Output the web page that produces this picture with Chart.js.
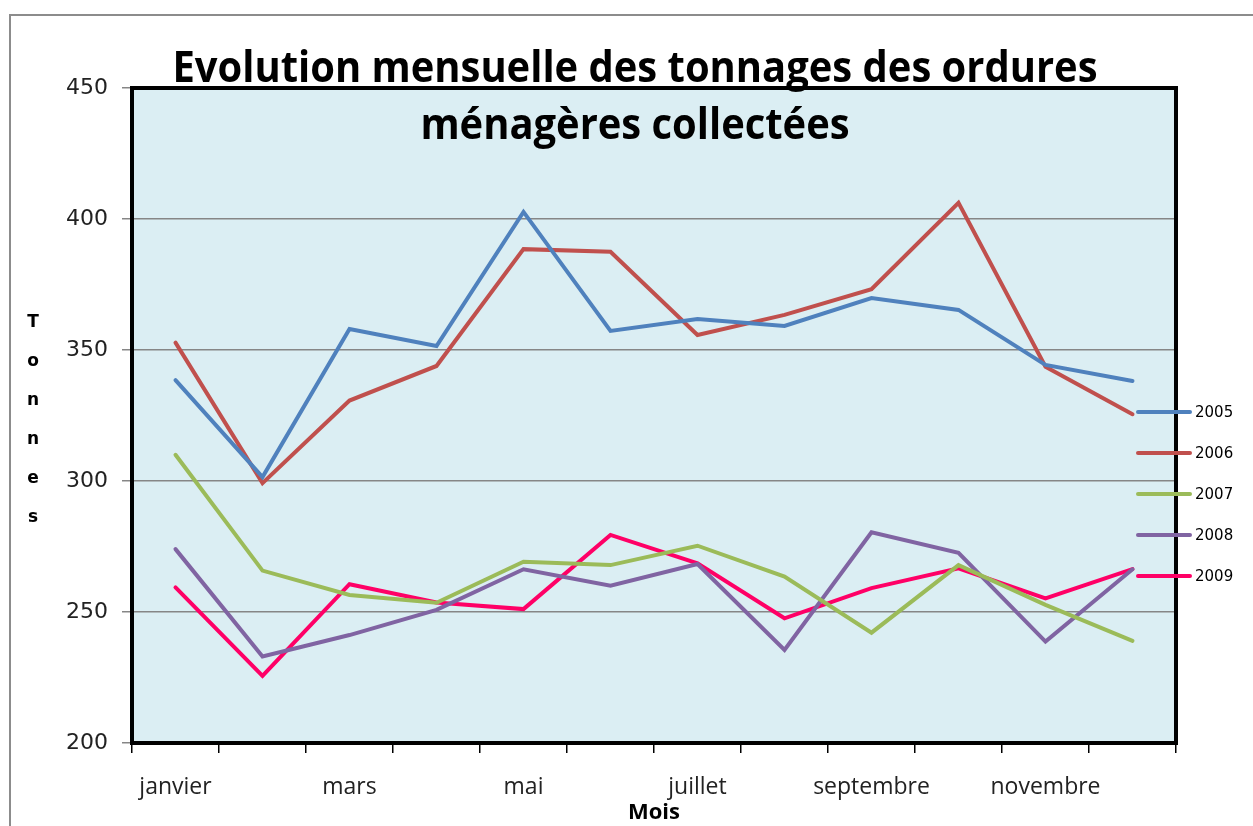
<!DOCTYPE html>
<html lang="fr">
<head>
  <meta charset="UTF-8" />
  <title>Evolution mensuelle des tonnages des ordures ménagères collectées</title>
  <script src="https://cdn.jsdelivr.net/npm/chart.js"></script>
  <style>
    html, body { margin: 0; padding: 0; background: #fff; }
    #wrap { width: 1253px; height: 826px; position: relative; }
  </style>
</head>
<body>
  <div id="wrap"><canvas id="chart"></canvas></div>

  <script>
    const months = ['janvier', 'février', 'mars', 'avril', 'mai', 'juin',
                    'juillet', 'août', 'septembre', 'octobre', 'novembre', 'décembre'];
    const years = ['2005', '2006', '2007', '2008', '2009'];
    const colors = ['#4F81BD', '#C0504D', '#9BBB59', '#8064A2', '#FF0066'];

    const t2005 = [338.5, 301.5, 358, 351.5, 402.7, 357.3, 361.8, 359.2, 369.8, 365.3, 344.3, 338.2];
    const t2006 = [352.8, 299.2, 330.7, 343.9, 388.5, 387.5, 355.7, 363.4, 373.2, 406.2, 343.6, 325.5];
    const t2007 = [310, 265.8, 256.5, 253.5, 269.2, 267.9, 275.3, 263.5, 242.1, 267.9, 252.7, 239];
    const t2008 = [274, 233, 241.2, 250.8, 266.3, 260, 268.3, 235.5, 280.4, 272.6, 238.7, 266.3];
    const t2009 = [259.4, 225.6, 260.6, 253.6, 251.1, 279.4, 268.6, 247.6, 259.1, 266.7, 255.2, 266.4];
    const series = [t2005, t2006, t2007, t2008, t2009];

    const yMin = 200, yMax = 450, yStep = 50;
    const titleLines = ['Evolution mensuelle des tonnages des ordures', 'ménagères collectées'];
    const yTitle = 'Tonnes';
    const xTitle = 'Mois';

    const canvas = document.getElementById('chart');
    canvas.width = 1253;
    canvas.height = 826;

    // plot background, frame, title, vertical y title and legend
    const decor = {
      id: 'decor',
      beforeDraw(chart) {
        const { ctx, chartArea: a } = chart;
        ctx.save();
        ctx.fillStyle = '#fff';
        ctx.fillRect(0, 0, chart.width, chart.height);
        ctx.strokeStyle = '#8c8c8c';
        ctx.lineWidth = 2;
        ctx.strokeRect(10, 15, chart.width + 20, chart.height + 20);
        ctx.fillStyle = '#DBEEF3';
        ctx.fillRect(a.left, a.top, a.right - a.left, a.bottom - a.top);
        ctx.restore();
      },
      afterDatasetsDraw(chart) {
        const { ctx, chartArea: a } = chart;
        ctx.save();
        ctx.strokeStyle = '#000';
        ctx.lineWidth = 4;
        ctx.strokeRect(a.left, a.top, a.right - a.left, a.bottom - a.top);
        ctx.restore();
      },
      afterDraw(chart) {
        const { ctx } = chart;
        ctx.save();
        // title, squeezed to the narrow width of the original face
        ctx.fillStyle = '#000';
        ctx.textAlign = 'center';
        ctx.textBaseline = 'middle';
        ctx.font = 'bold 43px "Open Sans", sans-serif';
        const sx = 925 / ctx.measureText(titleLines[0]).width;
        ctx.save();
        ctx.translate(635, 0);
        ctx.scale(sx, 1);
        titleLines.forEach((l, i) => ctx.fillText(l, 0, 70 + i * 57));
        ctx.restore();

        // stacked y title
        ctx.font = 'bold 17px "DejaVu Sans", sans-serif';
        yTitle.split('').forEach((c, i) => ctx.fillText(c, 33, 323 + i * 39));

        // legend
        ctx.textAlign = 'left';
        ctx.font = '15px "DejaVu Sans", sans-serif';
        ctx.lineCap = 'round';
        ctx.lineWidth = 4;
        chart.data.datasets.forEach((ds, i) => {
          const y = 412 + i * 41;
          ctx.strokeStyle = ds.borderColor;
          ctx.beginPath();
          ctx.moveTo(1138, y);
          ctx.lineTo(1190, y);
          ctx.stroke();
          ctx.fillStyle = '#000';
          ctx.fillText(ds.label, 1195, y + 1);
        });
        ctx.restore();
      }
    };

    new Chart(canvas, {
      type: 'line',
      data: {
        labels: months,
        datasets: years.map((y, i) => ({
          label: y,
          data: series[i],
          borderColor: colors[i],
          backgroundColor: colors[i],
          borderWidth: 4,
          pointRadius: 0,
          tension: 0,
          borderCapStyle: 'round',
          borderJoinStyle: 'miter'
        }))
      },
      options: {
        responsive: false,
        animation: false,
        layout: { padding: { top: 88, right: 77, left: 0, bottom: 0 } },
        plugins: {
          legend: { display: false },
          title: { display: false },
          tooltip: { enabled: false }
        },
        scales: {
          x: {
            offset: true,
            afterFit(s) { s.height = 83; },
            grid: {
              offset: true,
              drawOnChartArea: false,
              drawTicks: true,
              tickLength: 10,
              color: '#000',
              lineWidth: 1.5
            },
            border: { display: false },
            ticks: {
              autoSkip: false,
              maxRotation: 0,
              padding: 21,
              color: '#222',
              font: { family: '"Open Sans", sans-serif', size: 23 },
              callback(v, i) { return i % 2 === 0 ? this.getLabelForValue(v) : ''; }
            },
            title: {
              display: true,
              text: xTitle,
              color: '#000',
              padding: { top: 0, bottom: 0 },
              font: { family: '"Open Sans", sans-serif', size: 22, weight: 'bold' }
            }
          },
          y: {
            min: yMin,
            max: yMax,
            afterFit(s) { s.width = 132; },
            grid: {
              color: '#868686',
              lineWidth: 1.5,
              tickLength: 10
            },
            border: { display: false },
            ticks: {
              stepSize: yStep,
              padding: 14,
              color: '#222',
              font: { family: '"DejaVu Sans", sans-serif', size: 22 }
            }
          }
        }
      },
      plugins: [decor]
    });
  </script>
</body>
</html>
